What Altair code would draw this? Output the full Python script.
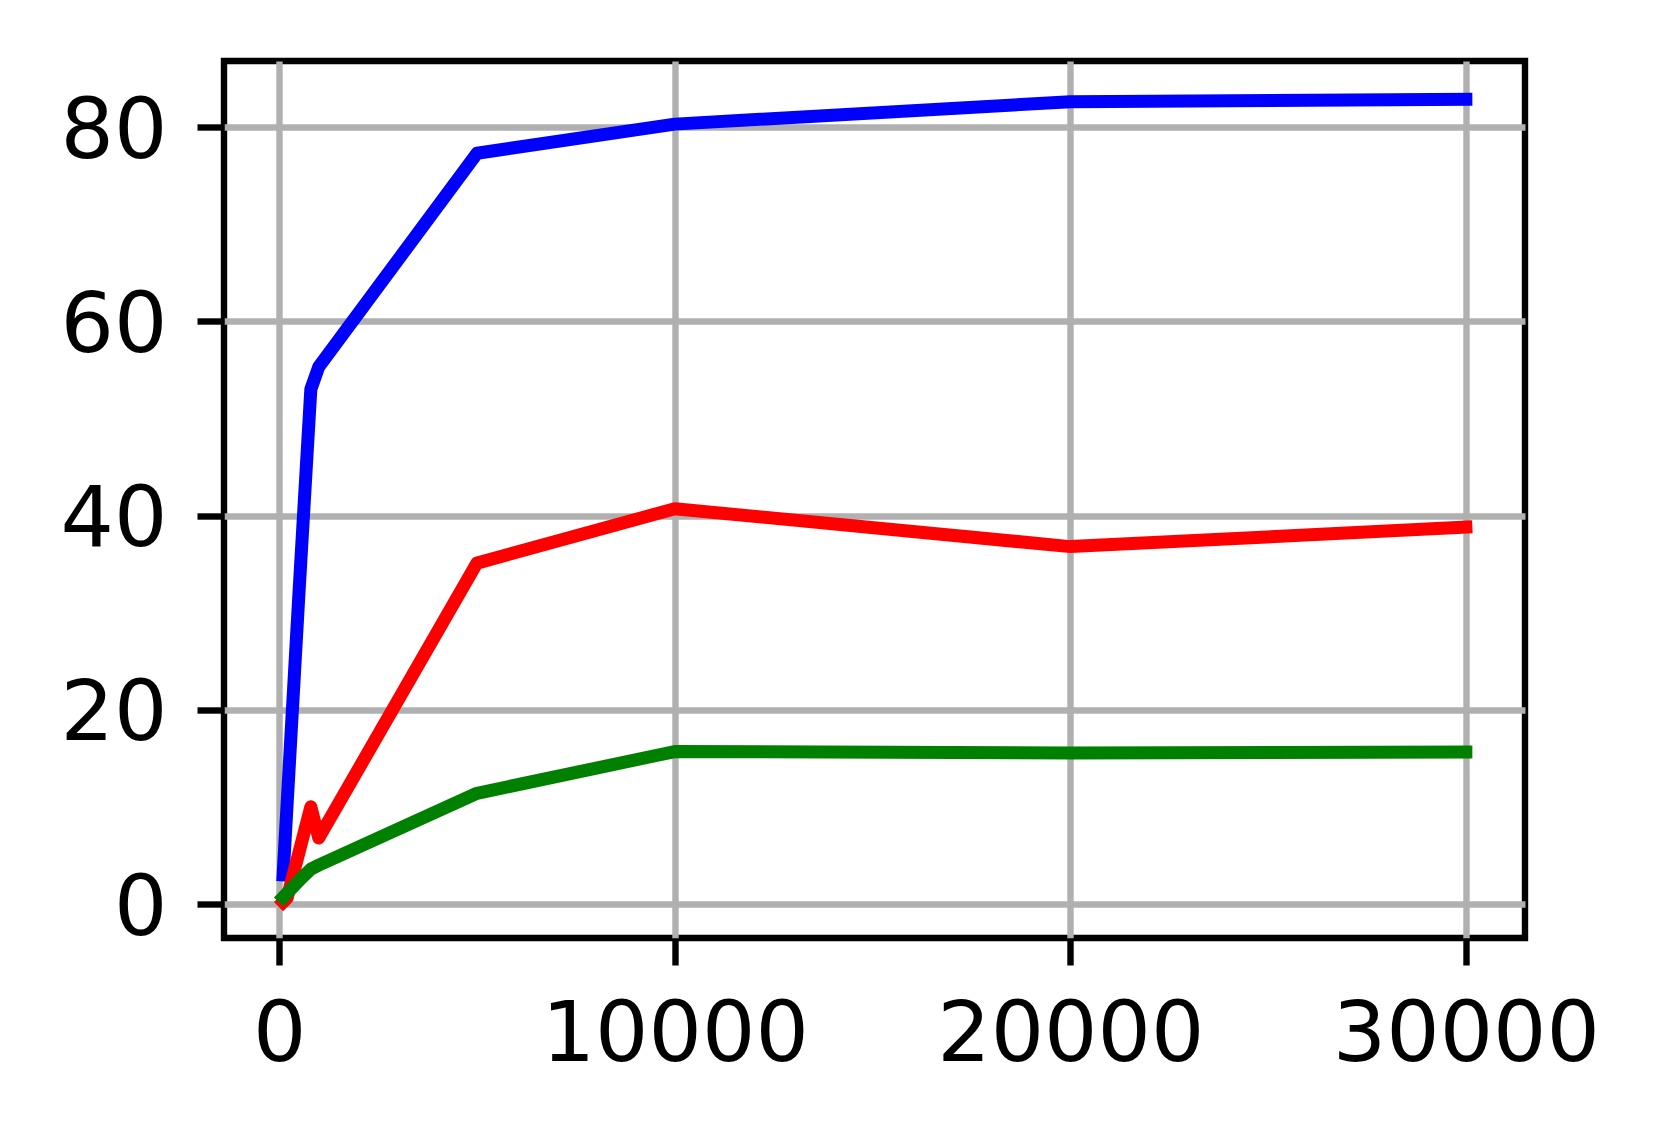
import altair as alt
import pandas as pd

x_vals = [100, 500, 800, 1000, 5000, 10000, 20000, 30000]
blue_vals = [3.0, 32.0, 53.0, 55.3, 77.3, 80.3, 82.6, 82.85]
x_red = [100, 200, 800, 1000, 5000, 10000, 20000, 30000]
red_vals = [0.2, 0.6, 10.0, 6.8, 35.1, 40.7, 36.8, 38.8]
green_vals = [0.7, 2.4, 3.6, 4.0, 11.4, 15.7, 15.55, 15.65]

x_ticks = [0, 10000, 20000, 30000]
y_ticks = [0, 20, 40, 60, 80]

blue_df = pd.DataFrame({"x": x_vals, "y": blue_vals})
red_df = pd.DataFrame({"x": x_red, "y": red_vals})
green_df = pd.DataFrame({"x": x_vals, "y": green_vals})

FONT = "DejaVu Sans"
FS = 84

xscale = alt.Scale(domain=[-1395, 31495], nice=False, zero=False)
yscale = alt.Scale(domain=[-3.5, 86.8], nice=False, zero=False)

xaxis = alt.Axis(values=x_ticks, title=None, grid=True, gridColor="#b0b0b0",
                 gridWidth=6.4, domain=False, tickSize=27, tickWidth=6.4,
                 tickColor="black", labelFont=FONT, labelFontSize=FS,
                 labelColor="black", labelPadding=29, format="d",
                 labelFlush=False, labelOverlap=False, labelLimit=600)
yaxis = alt.Axis(values=y_ticks, title=None, grid=True, gridColor="#b0b0b0",
                 gridWidth=6.4, domain=False, tickSize=27, tickWidth=6.4,
                 tickColor="black", labelFont=FONT, labelFontSize=FS,
                 labelColor="black", labelPadding=30, format="d",
                 labelOffset=5, labelFlush=False, labelOverlap=False,
                 labelLimit=600)


def line(df, color):
    return alt.Chart(df).mark_line(
        color=color, strokeWidth=13, strokeCap="square", strokeJoin="round",
        clip=True,
    ).encode(
        x=alt.X("x:Q", scale=xscale, axis=xaxis),
        y=alt.Y("y:Q", scale=yscale, axis=yaxis),
    )


chart = alt.layer(
    line(blue_df, "#0000ff"),
    line(red_df, "#ff0000"),
    line(green_df, "#008000"),
).properties(
    width=1301, height=877,
    background="white",
    autosize=alt.AutoSizeParams(type="none"),
    padding={"left": 216, "top": 53, "right": 120, "bottom": 180},
).configure_view(
    stroke="black", strokeWidth=6.4, fill="white"
)

chart.save("out.html", embed_options={"renderer": "svg", "actions": False})
